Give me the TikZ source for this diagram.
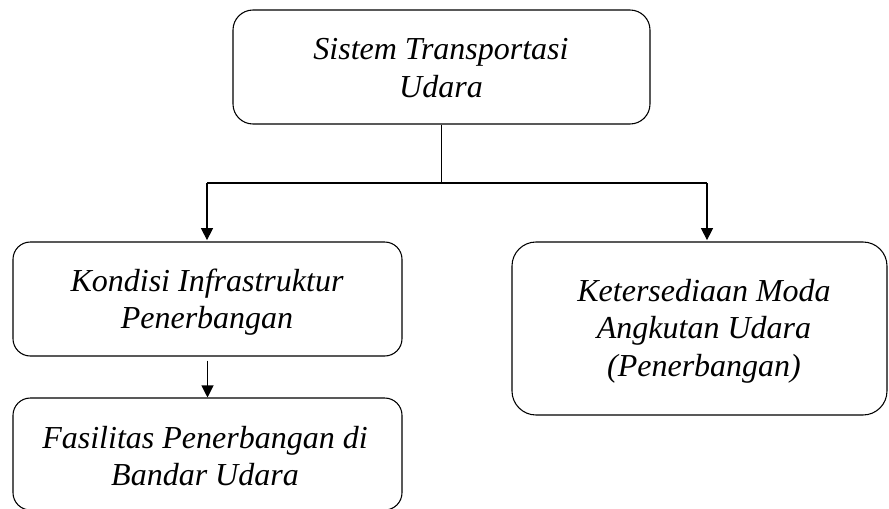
\documentclass[tikz,border=0pt]{standalone}
\usepackage{fontspec}
\setmainfont{Liberation Serif}
\usetikzlibrary{arrows.meta,fit}
\begin{document}
\begin{tikzpicture}[x=0.75pt,y=-0.75pt,
  box/.style={draw,line width=0.8pt,inner sep=0pt,rectangle},
  txt/.style={align=center,inner sep=0pt,font=\fontsize{24}{28}\selectfont\itshape},
  arr/.style={line width=0.8pt,-{Triangle[length=9pt,width=9pt]}},
  ln/.style={line width=0.8pt}]
\useasboundingbox (0,0) rectangle (889,508);
\begin{scope}
\clip (0,0) rectangle (889,508);
\node[box,rounded corners=15pt,fit={(233,10) (650,124)}] (top) {};
\node[box,rounded corners=13pt,fit={(13,242) (402,356)}] (left) {};
\node[box,rounded corners=13pt,fit={(13,398) (402,510)}] (bottom) {};
\node[box,rounded corners=18pt,fit={(512,242) (887,415)}] (right) {};
\end{scope}
\node[txt] (ttop) at (441,68) {Sistem Transportasi\\Udara};
\node[txt] (tleft) at (207,302) {Kondisi Infrastruktur\\Penerbangan};
\node[txt] (tbottom) at (205,456) {Fasilitas Penerbangan di\\Bandar Udara};
\node[txt] (tright) at (704,331) {Ketersediaan Moda\\Angkutan Udara\\(Penerbangan)};
\coordinate (jl) at (207,183);
\coordinate (jr) at (707,183);
\draw[ln] (top.south) -- (top.south |- jl);
\draw[ln] (jl) -- (jr);
\draw[arr] (jl) -- ([yshift=1pt]jl |- left.north);
\draw[arr] (jr) -- ([yshift=1pt]jr |- right.north);
\draw[arr] ([yshift=-3pt]left.south) -- (bottom.north);
\end{tikzpicture}
\end{document}
